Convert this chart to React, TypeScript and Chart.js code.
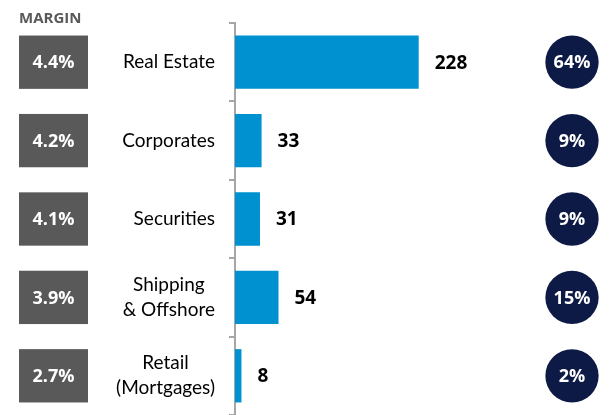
import React, { useEffect, useRef } from "react";
import { Chart, registerables } from "chart.js";
Chart.register(...registerables);

const categories: string[][] = [
  ["Real Estate"],
  ["Corporates"],
  ["Securities"],
  ["Shipping", "& Offshore"],
  ["Retail", "(Mortgages)"],
];
const values = [228, 33, 31, 54, 8];
const margins = ["4.4%", "4.2%", "4.1%", "3.9%", "2.7%"];
const shares = ["64%", "9%", "9%", "15%", "2%"];
const marginTitle = "MARGIN";

const W = 614;
const H = 415;
const FONT = "Lato, 'Open Sans', sans-serif";
const BOLD_FONT = "'Open Sans', Lato, sans-serif";
const BAR_COLOR = "#0091D0";
const BOX_COLOR = "#595959";
const CIRCLE_COLOR = "#0D1A45";
const AXIS_COLOR = "#A6A6A6";

const annotate = {
  id: "annotate",
  afterDatasetsDraw(chart: any) {
    const ctx: CanvasRenderingContext2D = chart.ctx;
    const meta = chart.getDatasetMeta(0);
    ctx.save();
    ctx.fillStyle = BOX_COLOR;
    ctx.font = `bold 15px ${BOLD_FONT}`;
    ctx.textAlign = "left";
    ctx.textBaseline = "alphabetic";
    ctx.fillText(marginTitle, 19, 23);

    meta.data.forEach((bar: any, i: number) => {
      const { x, y, height } = bar.getProps(["x", "y", "height"], true);
      const top = y - height / 2;
      // margin box
      ctx.fillStyle = BOX_COLOR;
      ctx.fillRect(19, top, 69, height);
      ctx.fillStyle = "#FFFFFF";
      ctx.font = `bold 18px ${BOLD_FONT}`;
      ctx.textAlign = "center";
      ctx.textBaseline = "middle";
      ctx.fillText(margins[i], 19 + 34.5, y + 1);

      // category label
      const lines = categories[i];
      ctx.font = `19px ${FONT}`;
      ctx.fillStyle = "#000000";
      const maxW = Math.max(...lines.map((l) => ctx.measureText(l).width));
      const cx = 215 - maxW / 2;
      const lh = 25;
      lines.forEach((l, j) => {
        ctx.fillText(l, cx, y + (j - (lines.length - 1) / 2) * lh);
      });

      // value label
      ctx.font = `bold 19px ${BOLD_FONT}`;
      ctx.textAlign = "left";
      ctx.fillText(String(values[i]), x + 16, y + 1);

      // share circle
      ctx.fillStyle = CIRCLE_COLOR;
      ctx.beginPath();
      ctx.arc(572, y, height / 2, 0, Math.PI * 2);
      ctx.fill();
      ctx.fillStyle = "#FFFFFF";
      ctx.font = `bold 18px ${BOLD_FONT}`;
      ctx.textAlign = "center";
      ctx.fillText(shares[i], 572, y + 1);
    });
    ctx.restore();
  },
};

export default function App() {
  const ref = useRef<HTMLCanvasElement | null>(null);
  useEffect(() => {
    if (!ref.current) return;
    const chart = new Chart(ref.current, {
      type: "bar",
      data: {
        labels: categories.map((c) => c.join(" ")),
        datasets: [
          {
            data: values,
            backgroundColor: BAR_COLOR,
            borderWidth: 0,
            barPercentage: 0.68,
            categoryPercentage: 1,
          },
        ],
      },
      options: {
        indexAxis: "y",
        responsive: false,
        animation: false,
        layout: { padding: { top: 23, bottom: 0, left: 0, right: 14 } },
        plugins: { legend: { display: false }, tooltip: { enabled: false } },
        scales: {
          x: { display: false, min: 0, max: 453 },
          y: {
            display: true,
            ticks: { display: false },
            grid: {
              offset: true,
              drawOnChartArea: false,
              drawTicks: true,
              tickLength: 6,
              color: AXIS_COLOR,
              lineWidth: 2,
            },
            border: { display: true, color: AXIS_COLOR, width: 2 },
            afterFit: (s: any) => {
              s.width = 235;
            },
          },
        },
      },
      plugins: [annotate],
    });
    return () => chart.destroy();
  }, []);
  return (
    <div style={{ position: "absolute", left: 0, top: 0, width: W, height: H, background: "#fff" }}>
      <canvas ref={ref} width={W} height={H} style={{ width: W, height: H }} />
    </div>
  );
}
